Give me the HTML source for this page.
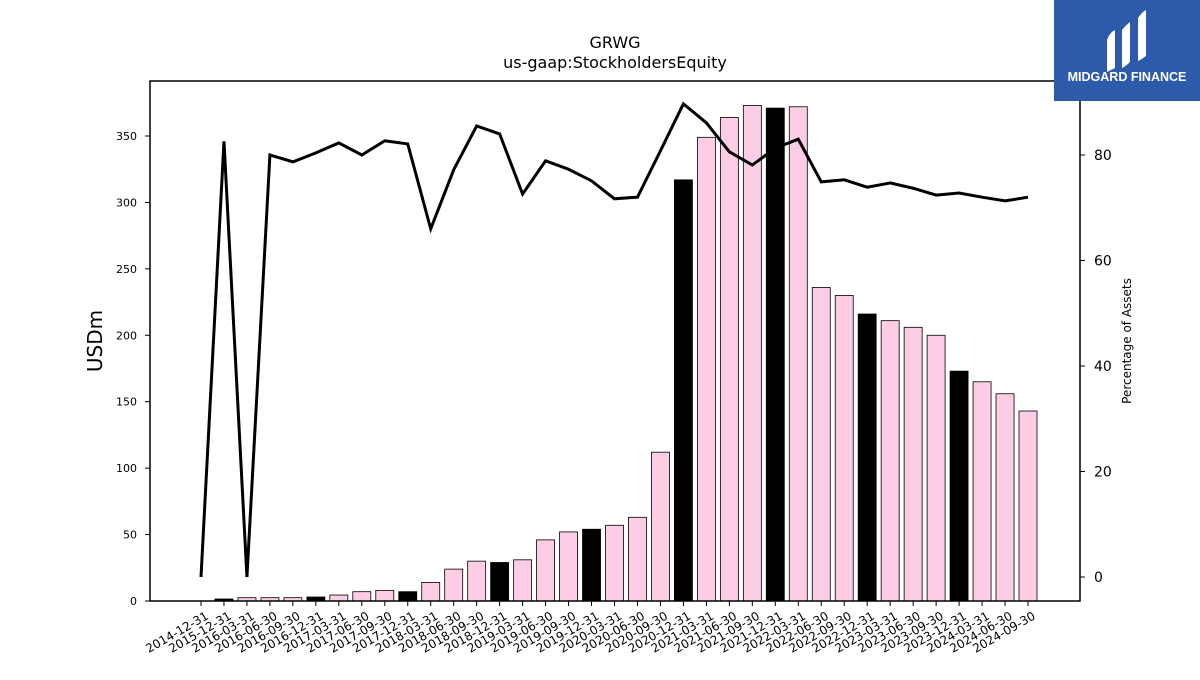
<!DOCTYPE html>
<html><head><meta charset="utf-8"><style>
body{margin:0;background:#fff;font-family:"Liberation Sans","DejaVu Sans",sans-serif}
</style></head><body>
<svg id="c" width="1200" height="675" xmlns="http://www.w3.org/2000/svg" style="font-family:'DejaVu Sans','Liberation Sans',sans-serif">
<text x="615" y="48" text-anchor="middle" font-size="16">GRWG</text>
<text x="615" y="68" text-anchor="middle" font-size="16">us-gaap:StockholdersEquity</text>
<text transform="translate(102,341) rotate(-90)" text-anchor="middle" font-size="20">USDm</text>
<text transform="translate(1131,341) rotate(-90)" text-anchor="middle" font-size="12">Percentage of Assets</text>
<g id="bars"></g><g id="xt"></g><g id="yt"></g><g id="y2t"></g>
<path id="line" fill="none" stroke="#000" stroke-width="3"/>
<rect x="150" y="81" width="930" height="520" fill="none" stroke="#000" stroke-width="1.5"/>
<g>
<rect x="1054" y="0" width="146" height="101" fill="#2d5aab"/>
<path d="M1107 40 q3-8 8-10 v38 q-4 2-8 4 z M1122 30 q4-5 8-8 v40 q-4 4-8 6 z M1138 18 q4-6 8-8 v46 q-4 3-8 5 z" fill="#fff"/>
<text x="1127" y="81" text-anchor="middle" font-size="12.5" font-weight="bold" fill="#fff" font-family="Liberation Sans,sans-serif">MIDGARD FINANCE</text>
</g>
</svg>
<script>
const categories=["2014-12-31","2015-12-31","2016-03-31","2016-06-30","2016-09-30","2016-12-31","2017-03-31","2017-06-30","2017-09-30","2017-12-31","2018-03-31","2018-06-30","2018-09-30","2018-12-31","2019-03-31","2019-06-30","2019-09-30","2019-12-31","2020-03-31","2020-06-30","2020-09-30","2020-12-31","2021-03-31","2021-06-30","2021-09-30","2021-12-31","2022-03-31","2022-06-30","2022-09-30","2022-12-31","2023-03-31","2023-06-30","2023-09-30","2023-12-31","2024-03-31","2024-06-30","2024-09-30"];
const equity=[0,1.5,2.5,2.5,2.5,3,4.5,7,8,7,14,24,30,29,31,46,52,54,57,63,112,317,349,364,373,371,372,236,230,216,211,206,200,173,165,156,143];
const pctAssets=[0,82.6,0,80,78.7,80.4,82.3,80,82.7,82.1,66,77.2,85.5,84,72.6,78.9,77.3,75.1,71.7,72,80.8,89.7,86.1,80.6,78.1,81.3,83,74.9,75.3,73.9,74.7,73.7,72.4,72.8,72,71.3,72];
const yTicks=[0,50,100,150,200,250,300,350];
const y2Ticks=[0,20,40,60,80];
const NS="http://www.w3.org/2000/svg";
const x=i=>201+i*(1028-201)/36;
const y=v=>601-v*465/350;
const y2=v=>577-v*422/80;
function mk(t,a,p){const e=document.createElementNS(NS,t);for(const k in a)e.setAttribute(k,a[k]);document.getElementById(p).appendChild(e);return e;}
categories.forEach((c,i)=>{
  const b=mk('rect',{x:x(i)-9,y:y(equity[i]),width:18,height:601-y(equity[i]),fill:c.endsWith('12-31')?'#000':'#fccde5',stroke:'#000','stroke-width':0.8},'bars');
  
  
  mk('line',{x1:x(i),x2:x(i),y1:601,y2:606,stroke:'#000'},'xt');
  const t=mk('text',{'font-size':12,'text-anchor':'end',transform:`translate(${x(i)+4},611) rotate(-30)`,dy:'0.7em'},'xt');
  t.textContent=c;
  
  
});
yTicks.forEach(v=>{
  mk('line',{x1:145,x2:150,y1:y(v),y2:y(v),stroke:'#000'},'yt');
  const t=mk('text',{x:137,y:y(v)+4,'font-size':11,'text-anchor':'end'},'yt');
  t.textContent=v;
  
  
});
y2Ticks.forEach(v=>{
  mk('line',{x1:1080,x2:1085,y1:y2(v),y2:y2(v),stroke:'#000'},'y2t');
  const t=mk('text',{x:1094,y:y2(v)+5,'font-size':14},'y2t');
  t.textContent=v;
  
  
});
document.getElementById('line').setAttribute('d',pctAssets.map((v,i)=>(i?'L':'M')+x(i)+' '+y2(v)).join(' '));
</script>
</body></html>
